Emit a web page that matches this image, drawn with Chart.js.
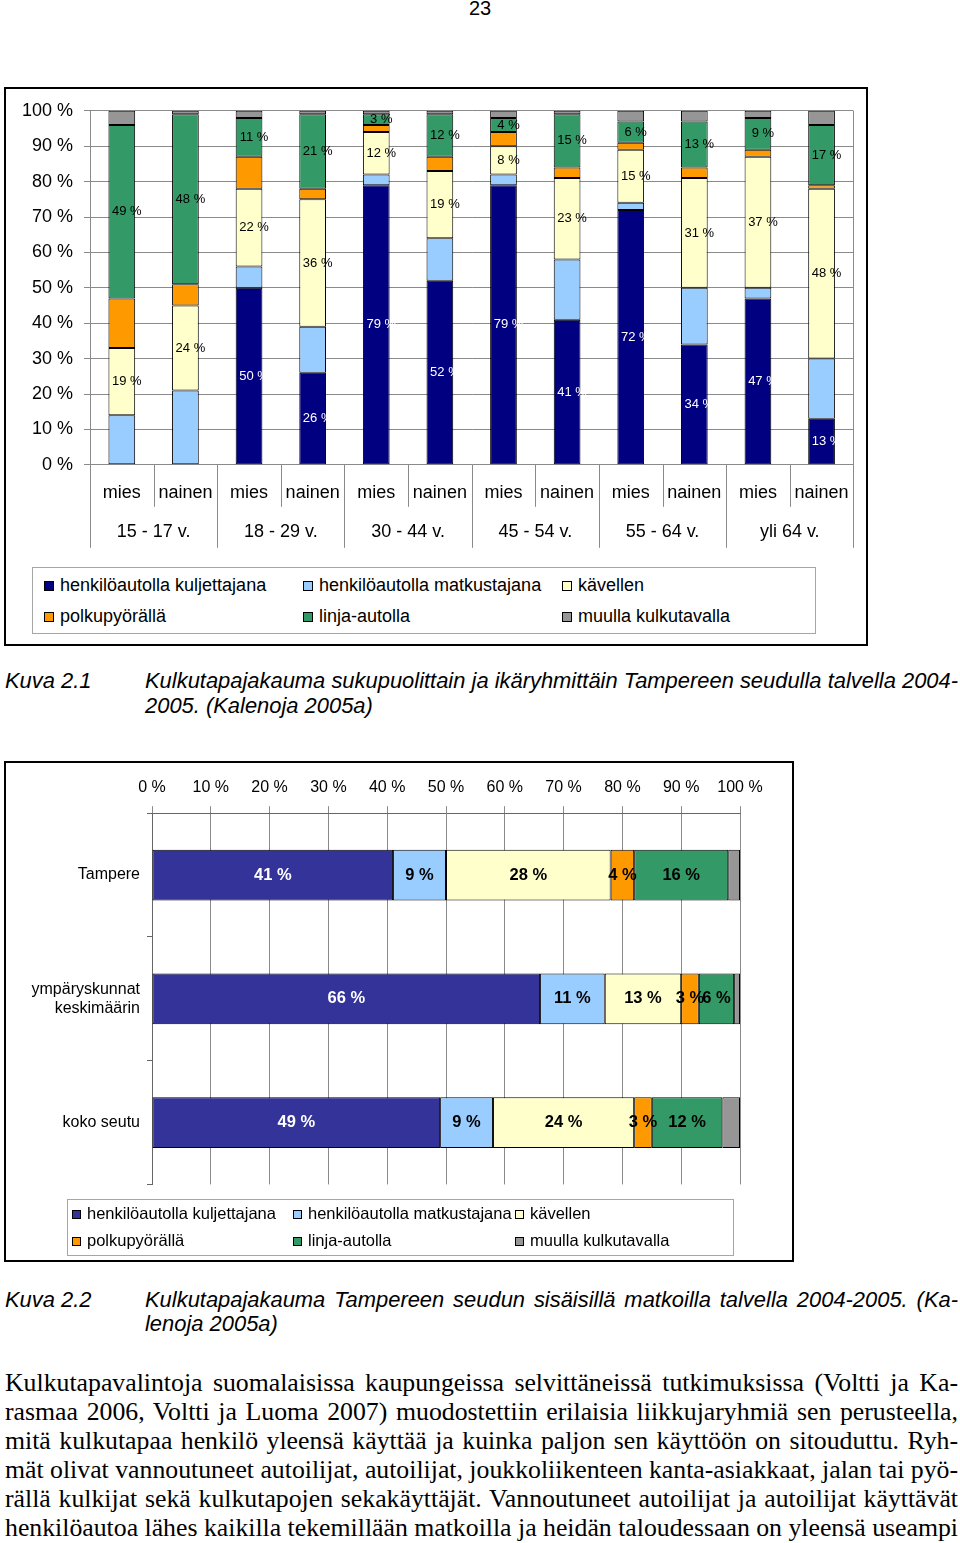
<!DOCTYPE html>
<html>
<head>
<meta charset="utf-8">
<script src="https://cdn.jsdelivr.net/npm/chart.js@4.4.1/dist/chart.umd.min.js"></script>
<style>
  body { margin: 0; width: 960px; height: 1543px; position: relative; background: #fff; overflow: hidden;
         font-family: "Liberation Sans", Arial, sans-serif; color: #000; }
  .frame { position: absolute; border: 2px solid #000; box-sizing: border-box; }
  .legend { position: absolute; border: 1px solid #a6a6a6; box-sizing: border-box; }
  .item { position: absolute; white-space: nowrap; }
  .sq { position: absolute; border: 1px solid #000; box-sizing: border-box; }
  .line { position: absolute; white-space: nowrap; transform-origin: 0 50%; }
  .cap { font-style: italic; font-size: 22px; }
  .body { font-family: "Liberation Serif", "Times New Roman", serif; font-size: 26px; }
  canvas { position: absolute; }
</style>
</head>
<body>

<div class="line" style="left:0;width:960px;top:-3px;text-align:center;font-size:20px">23</div>

<div class="frame" style="left:4px;top:87px;width:864px;height:559px"></div>
<canvas id="chart1" width="860" height="470" style="left:6px;top:89px"></canvas>
<div class="legend" id="legend1" style="left:32px;top:567px;width:784px;height:67px"></div>

<div class="frame" style="left:4px;top:761px;width:790px;height:501px"></div>
<canvas id="chart2" width="786" height="438" style="left:6px;top:763px"></canvas>
<div class="legend" id="legend2" style="left:67px;top:1199px;width:667px;height:57px"></div>

<script>
// categories
const sexes = ["mies", "nainen"];
const ageGroups = ["15 - 17 v.", "18 - 29 v.", "30 - 44 v.", "45 - 54 v.", "55 - 64 v.", "yli 64 v."];
const modes = ["henkilöautolla kuljettajana", "henkilöautolla matkustajana", "kävellen",
               "polkupyörällä", "linja-autolla", "muulla kulkutavalla"];
const areas = ["Tampere", ["ympäryskunnat", "keskimäärin"], "koko seutu"];
const pctTicks = [0, 10, 20, 30, 40, 50, 60, 70, 80, 90, 100];

// Kuva 2.1 (%), bars: mies, nainen for each age group
const driver1    = [0, 0, 50, 26, 79, 52, 79, 41, 72, 34, 47, 13];
const passenger1 = [14, 21, 6, 13, 3, 12, 3, 17, 2, 16, 3, 17];
const walking1   = [19, 24, 22, 36, 12, 19, 8, 23, 15, 31, 37, 48];
const cycling1   = [14, 6, 9, 3, 2, 4, 4, 3, 2, 3, 2, 1];
const bus1       = [49, 48, 11, 21, 3, 12, 4, 15, 6, 13, 9, 17];
const other1     = [4, 1, 2, 1, 1, 1, 2, 1, 3, 3, 2, 4];

// Kuva 2.2 (%), bars: Tampere, ympäryskunnat, koko seutu
const driver2    = [41, 66, 49];
const passenger2 = [9, 11, 9];
const walking2   = [28, 13, 24];
const cycling2   = [4, 3, 3];
const bus2       = [16, 6, 12];
const other2     = [2, 1, 3];

const colors1 = ["#000080", "#99ccff", "#ffffcc", "#ff9900", "#339966", "#969696"];
const colors2 = ["#333399", "#99ccff", "#ffffcc", "#ff9900", "#339966", "#969696"];
const FONT = '"Liberation Sans", Arial, sans-serif';
const GRID = "#8a8a8a";

Chart.defaults.font.family = FONT;
Chart.defaults.color = "#000";

// segment labels
const barLabels = {
    id: "barLabels",
    afterDatasetsDraw(chart, args, opts) {
        const ctx = chart.ctx;
        const horiz = chart.options.indexAxis === "y";
        ctx.save();
        ctx.font = opts.font;
        ctx.textAlign = "center";
        ctx.textBaseline = "middle";
        chart.data.datasets.forEach((ds, di) => {
            if (!opts.show.includes(di)) return;
            chart.getDatasetMeta(di).data.forEach((el, i) => {
                const v = ds.data[i];
                if (!v) return;
                const x = horiz ? (el.x + el.base) / 2 : el.x + opts.dx;
                const y = horiz ? el.y : (el.y + el.base) / 2;
                ctx.fillStyle = di === 0 ? "#fff" : "#000";
                ctx.fillText(v + " %", x, y);
            });
        });
        ctx.restore();
    }
};

// category separators below chart 1
const separators = {
    id: "separators",
    afterDraw(chart) {
        const ctx = chart.ctx;
        const xs = chart.scales.x;
        const area = chart.chartArea;
        const n = xs.ticks.length;
        const half = (xs.getPixelForValue(1) - xs.getPixelForValue(0)) / 2;
        ctx.save();
        ctx.strokeStyle = GRID;
        ctx.lineWidth = 1;
        for (let i = 0; i <= n; i++) {
            const px = Math.round(xs.getPixelForValue(0) - half + i * 2 * half) + 0.5;
            ctx.beginPath();
            ctx.moveTo(px, i === n ? area.top : area.bottom);
            ctx.lineTo(px, area.bottom + (i % 2 === 0 ? 83 : 42));
            ctx.stroke();
        }
        ctx.restore();
    }
};

function makeSets(series, colors) {
    return series.map((d, i) => ({
        label: modes[i],
        data: d,
        backgroundColor: colors[i],
        borderColor: "#000",
        borderWidth: 1,
        borderSkipped: false
    }));
}

const sexLabels = ageGroups.flatMap(() => sexes);

new Chart(document.getElementById("chart1"), {
    type: "bar",
    data: {
        labels: sexLabels,
        datasets: makeSets([driver1, passenger1, walking1, cycling1, bus1, other1], colors1)
    },
    options: {
        responsive: false,
        animation: false,
        layout: { padding: { top: 20, right: 10, left: 0, bottom: 15 } },
        datasets: { bar: { categoryPercentage: 1, barPercentage: 0.42 } },
        scales: {
            x: {
                stacked: true, weight: 0,
                grid: { display: false, drawTicks: false },
                border: { display: false },
                ticks: { font: { size: 18 }, padding: 17, autoSkip: false, maxRotation: 0 }
            },
            x2: {
                type: "category", labels: ageGroups, position: "bottom", weight: 1,
                grid: { display: false, drawTicks: false },
                border: { display: false },
                ticks: { font: { size: 18 }, padding: 1, autoSkip: false, maxRotation: 0 }
            },
            y: {
                stacked: true, min: 0, max: 100,
                afterBuildTicks: s => { s.ticks = pctTicks.map(v => ({ value: v })); },
                afterFit: s => { s.width = 84; },
                ticks: { font: { size: 18 }, padding: 11, callback: v => v + " %" },
                grid: { color: GRID, tickLength: 6 },
                border: { color: GRID }
            }
        },
        plugins: {
            legend: { display: false },
            tooltip: { enabled: false },
            barLabels: { show: [0, 2, 4], font: "13px " + FONT, dx: 5 }
        }
    },
    plugins: [barLabels, separators]
});

new Chart(document.getElementById("chart2"), {
    type: "bar",
    data: {
        labels: areas,
        datasets: makeSets([driver2, passenger2, walking2, cycling2, bus2, other2], colors2)
    },
    options: {
        indexAxis: "y",
        responsive: false,
        animation: false,
        layout: { padding: { top: 6, right: 52, left: 0, bottom: 8 } },
        datasets: { bar: { categoryPercentage: 1, barPercentage: 0.41 } },
        scales: {
            x: {
                position: "top", stacked: true, min: 0, max: 100,
                afterBuildTicks: s => { s.ticks = pctTicks.map(v => ({ value: v })); },
                ticks: { font: { size: 16 }, padding: 9, callback: v => v + " %" },
                grid: { color: GRID, tickLength: 7 },
                border: { color: "#666" }
            },
            y: {
                stacked: true,
                afterFit: s => { s.width = 146; },
                ticks: { font: { size: 16 }, padding: 7 },
                grid: { drawOnChartArea: false, tickLength: 5, color: "#666", offset: true },
                border: { color: "#666" }
            }
        },
        plugins: {
            legend: { display: false },
            tooltip: { enabled: false },
            barLabels: { show: [0, 1, 2, 3, 4], font: "bold 16.5px " + FONT }
        }
    },
    plugins: [barLabels]
});

// legends
function buildLegend(id, colors, ox, oy, textX, rowY, sq, size) {
    const box = document.getElementById(id);
    modes.forEach((m, i) => {
        const col = i % 3, row = Math.floor(i / 3);
        const s = document.createElement("div");
        s.className = "sq";
        s.style.cssText = `left:${textX[col] - ox - sq - 6}px;top:${rowY[row] - oy - sq / 2}px;width:${sq}px;height:${sq}px;background:${colors[i]}`;
        box.appendChild(s);
        const t = document.createElement("div");
        t.className = "item";
        t.textContent = m;
        t.style.cssText = `left:${textX[col] - ox}px;top:${rowY[row] - oy - size * 0.6}px;font-size:${size}px;line-height:${size * 1.2}px`;
        box.appendChild(t);
    });
}
buildLegend("legend1", colors1, 33, 568, [60, 319, 578], [586, 617], 10, 18);
buildLegend("legend2", colors2, 68, 1200, [87, 308, 530], [1214, 1241], 9, 16.5);

// captions and body text, one line each; same horizontal squeeze per block, then justified
const lines = [
    ["cap", "Kuva 2.1", 5, 681, 0],
    ["cap", "Kulkutapajakauma sukupuolittain ja ikäryhmittäin Tampereen seudulla talvella 2004-", 145, 681, 813],
    ["cap", "2005. (Kalenoja 2005a)", 145, 706, 0],
    ["cap", "Kuva 2.2", 5, 1300, 0],
    ["cap", "Kulkutapajakauma Tampereen seudun sisäisillä matkoilla talvella 2004-2005. (Ka-", 145, 1300, 813],
    ["cap", "lenoja 2005a)", 145, 1324, 0],
    ["body", "Kulkutapavalintoja suomalaisissa kaupungeissa selvittäneissä tutkimuksissa (Voltti ja Ka-", 5, 1383, 953],
    ["body", "rasmaa 2006, Voltti ja Luoma 2007) muodostettiin erilaisia liikkujaryhmiä sen perusteella,", 5, 1412, 953],
    ["body", "mitä kulkutapaa henkilö yleensä käyttää ja kuinka paljon sen käyttöön on sitouduttu. Ryh-", 5, 1441, 953],
    ["body", "mät olivat vannoutuneet autoilijat, autoilijat, joukkoliikenteen kanta-asiakkaat, jalan tai pyö-", 5, 1470, 953],
    ["body", "rällä kulkijat sekä kulkutapojen sekakäyttäjät. Vannoutuneet autoilijat ja autoilijat käyttävät", 5, 1499, 953],
    ["body", "henkilöautoa lähes kaikilla tekemillään matkoilla ja heidän taloudessaan on yleensä useampi", 5, 1528, 953]
];
const made = lines.map(([cls, text, x, y, w]) => {
    const d = document.createElement("div");
    d.className = "line " + cls;
    d.textContent = text;
    d.style.left = x + "px";
    d.style.top = (y - 15) + "px";
    d.style.lineHeight = "30px";
    document.body.appendChild(d);
    return { d, cls, text, w, nat: d.getBoundingClientRect().width };
});
const squeeze = {};
made.forEach(m => {
    if (!m.w) return;
    squeeze[m.cls] = Math.min(squeeze[m.cls] || 1, m.w / m.nat);
});
made.forEach(m => {
    const s = squeeze[m.cls] || 1;
    m.d.style.transform = `scaleX(${s})`;
    if (!m.w) return;
    const spaces = (m.text.match(/ /g) || []).length;
    m.d.style.wordSpacing = ((m.w / s - m.nat) / spaces) + "px";
});
</script>
</body>
</html>
